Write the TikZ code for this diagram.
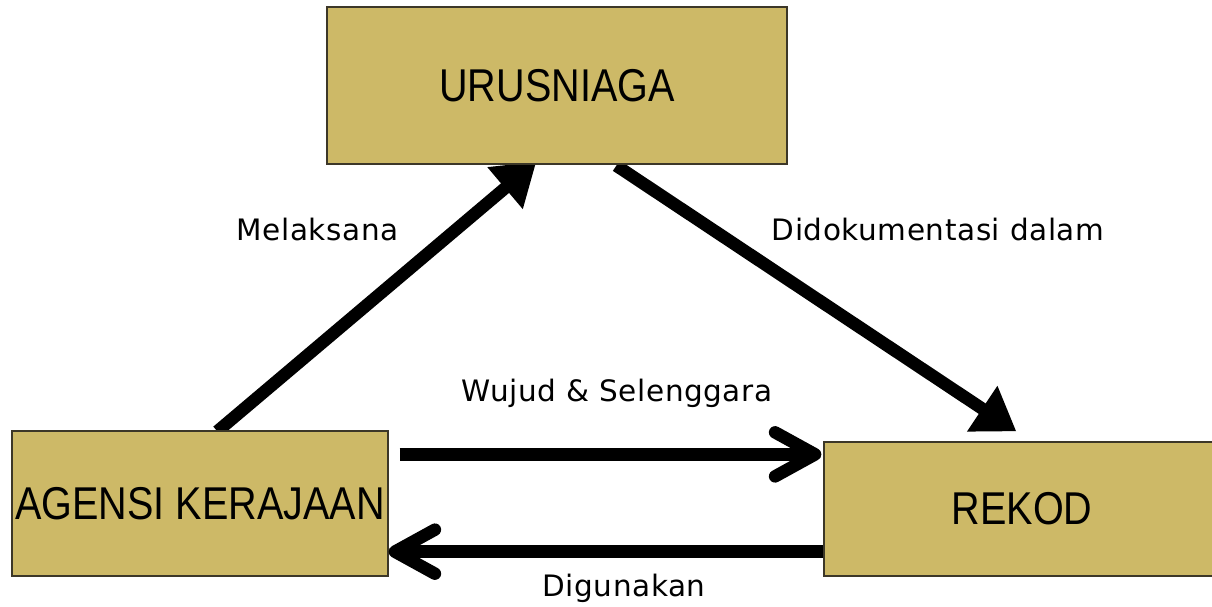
\documentclass[tikz,border=0pt]{standalone}
\usepackage{fontspec}
\setmainfont{DejaVu Sans}[LetterSpace=2]
\newfontfamily\boxfont[FakeStretch=0.86]{Liberation Sans}
\usetikzlibrary{arrows.meta,calc}
\pgfdeclarelayer{bg}
\pgfsetlayers{bg,main}
\definecolor{boxtan}{RGB}{205,185,103}
\definecolor{boxline}{RGB}{60,55,40}
\tikzset{
  entity/.style={draw=boxline, line width=1.3pt, fill=boxtan, inner sep=0pt,
    font=\boxfont\fontsize{46}{46}\selectfont},
  diagarrow/.style={line width=12.5pt, -{Triangle[length=41pt,width=52pt]}},
  flatarrow/.style={line width=12.5pt, -{Straight Barb[length=40pt,width=44pt,round]}},
  lbl/.style={font=\fontsize{29.5}{30}\selectfont, anchor=base, inner sep=0pt}
}
\begin{document}
\begin{tikzpicture}[x=1pt,y=-1pt]
\useasboundingbox (0,0) rectangle (1212,606);
\clip (0,0) rectangle (1212,606);
\node[entity, minimum width=396pt, minimum height=134pt] (rekod) at (1022,509) {REKOD};
\node[entity, minimum width=460pt, minimum height=157pt] (urus) at (557,85.5) {URUSNIAGA};
\node[entity, minimum width=376pt, minimum height=145pt] (agensi) at (200,503.5) {AGENSI KERAJAAN};
\begin{pgfonlayer}{bg}
\draw[diagarrow] ($(agensi.north west)+(206,1)$) -- ($(urus.south west)+(210,-3)$);
\draw[diagarrow] ($(urus.south west)+(290,1)$) -- ($(rekod.north west)+(193,-10)$);
\end{pgfonlayer}
\draw[flatarrow] ($(agensi.north east)+(11,24)$) -- ($(rekod.north west)+(-2,13)$);
\draw[flatarrow] ($(rekod.south west)+(0,-25)$) -- ($(agensi.south east)+(0,-25)$);
\node[lbl] (l1) at (317.5,240) {Melaksana};
\node[lbl] (l2) at (938,240) {Didokumentasi dalam};
\node[lbl] (l3) at (617,401) {Wujud \& Selenggara};
\node[lbl] (l4) at (624,596) {Digunakan};
\end{tikzpicture}
\end{document}
